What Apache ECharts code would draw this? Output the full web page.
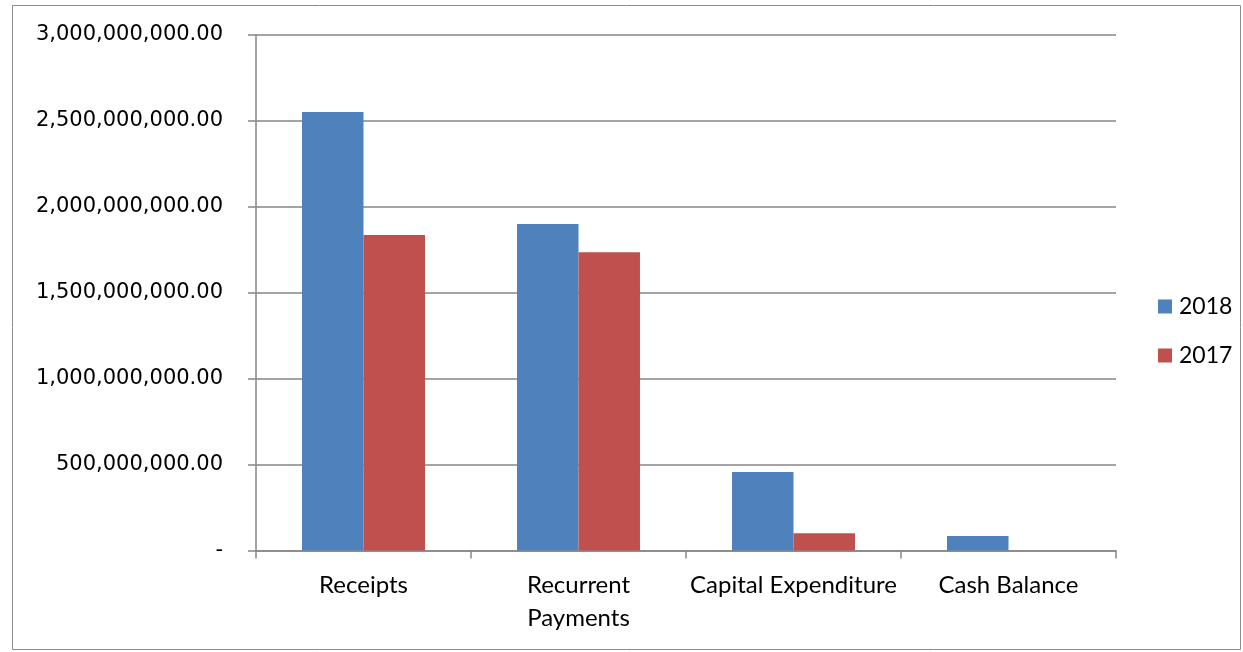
<!DOCTYPE html>
<html>
<head>
<meta charset="utf-8">
<script src="https://cdn.jsdelivr.net/npm/echarts@6/dist/echarts.min.js"></script>
<style>
  html, body { margin: 0; padding: 0; background: #fff; }
  #chart { width: 1243px; height: 652px; }
</style>
</head>
<body>
<div id="chart"></div>
<script>
// Categories and yearly totals
const categories = ['Receipts', 'Recurrent\nPayments', 'Capital Expenditure', 'Cash Balance'];
const values2018 = [2552000000, 1900000000, 457000000, 84000000];
const values2017 = [1836000000, 1735000000, 100000000, 0];
const seriesNames = ['2018', '2017'];
const yMax = 3000000000;
const yStep = 500000000;

function fmtMoney(v) {
  if (v === 0) return '-';
  return v.toLocaleString('en-US', { minimumFractionDigits: 2, maximumFractionDigits: 2 });
}

const chart = echarts.init(document.getElementById('chart'));
const gridColor = '#868686';

chart.setOption({
  animation: false,
  backgroundColor: '#fff',
  graphic: [{
    type: 'rect',
    shape: { x: 12.5, y: 5.5, width: 1228, height: 644 },
    style: { fill: 'none', stroke: '#8c8c8c', lineWidth: 1 },
    silent: true
  }],
  grid: { left: 256, right: 127, top: 35, bottom: 101.5 },
  legend: {
    orient: 'vertical',
    left: 1158,
    top: 295,
    padding: 0,
    itemWidth: 14,
    itemHeight: 14,
    itemGap: 26,
    icon: 'rect',
    textStyle: { fontFamily: 'Lato', fontSize: 23, color: '#000', padding: [0, 0, 0, 2] },
    data: seriesNames
  },
  xAxis: {
    type: 'category',
    data: categories,
    axisLine: { lineStyle: { color: gridColor, width: 1.5 } },
    axisTick: { show: true, length: 8, alignWithLabel: false, lineStyle: { color: gridColor, width: 1.5 } },
    axisLabel: {
      interval: 0,
      margin: 18,
      fontFamily: 'Lato',
      fontSize: 24,
      lineHeight: 33,
      color: '#000'
    }
  },
  yAxis: {
    type: 'value',
    min: 0,
    max: yMax,
    interval: yStep,
    axisLine: { show: true, lineStyle: { color: gridColor, width: 1.5 } },
    axisTick: { show: true, length: 8, lineStyle: { color: gridColor, width: 1.5 } },
    splitLine: { show: true, lineStyle: { color: gridColor, width: 1.5 } },
    axisLabel: {
      margin: 33,
      fontFamily: 'DejaVu Sans',
      fontSize: 21,
      color: '#000',
      formatter: fmtMoney
    }
  },
  series: [
    {
      name: seriesNames[0],
      type: 'bar',
      data: values2018,
      barWidth: '28.6%',
      barGap: '0%',
      itemStyle: { color: '#4F81BD' }
    },
    {
      name: seriesNames[1],
      type: 'bar',
      data: values2017,
      barWidth: '28.6%',
      barGap: '0%',
      itemStyle: { color: '#C0504D' }
    }
  ]
});
</script>
</body>
</html>
